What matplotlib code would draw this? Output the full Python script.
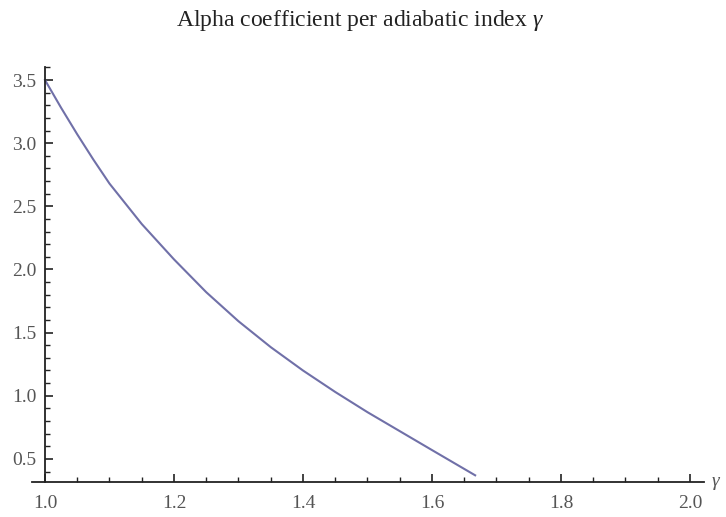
import matplotlib
matplotlib.use("Agg")
import matplotlib.pyplot as plt
from matplotlib.ticker import MultipleLocator

# values
gamma = [1.0, 1.025, 1.05, 1.075, 1.10, 1.15, 1.20, 1.25, 1.30, 1.35,
         1.40, 1.45, 1.50, 1.55, 1.60, 1.667]
alpha = [3.50, 3.28, 3.07, 2.87, 2.68, 2.36, 2.08, 1.82, 1.59, 1.385,
         1.20, 1.03, 0.87, 0.72, 0.57, 0.37]
x_ticks = [1.0, 1.2, 1.4, 1.6, 1.8, 2.0]
y_ticks = [0.5, 1.0, 1.5, 2.0, 2.5, 3.0, 3.5]

plt.rcParams['font.family'] = ['Liberation Serif', 'DejaVu Serif']
plt.rcParams['mathtext.fontset'] = 'custom'
plt.rcParams['mathtext.rm'] = 'Liberation Serif'
plt.rcParams['mathtext.it'] = 'Liberation Serif:italic'

fig = plt.figure(figsize=(7.26, 5.17), dpi=100)
ax = fig.add_axes([32.1 / 726, 35 / 517, 672 / 726, 414.6 / 517])

ax.plot(gamma, alpha, color='#7070a8', lw=1.5)

ax.set_xlim(0.98, 2.022)
ax.set_ylim(0.317, 3.6)

# Mathematica-style axes crossing at the origin of the plot range
ax.spines['top'].set_visible(False)
ax.spines['right'].set_visible(False)
ax.spines['left'].set_position(('data', 1.0))
for s in ['left', 'bottom']:
    ax.spines[s].set_linewidth(1.3)
    ax.spines[s].set_color('#222222')

ax.set_xticks(x_ticks)
ax.set_yticks(y_ticks)
ax.set_xticklabels([f"{v:.1f}" for v in x_ticks])
ax.set_yticklabels([f"{v:.1f}" for v in y_ticks])
ax.xaxis.set_minor_locator(MultipleLocator(0.05))
ax.yaxis.set_minor_locator(MultipleLocator(0.1))
ax.tick_params(which='major', direction='in', length=6, width=1.2,
               color='#222222', labelsize=14, labelcolor='#555555', pad=6)
ax.tick_params(axis='x', which='major', pad=9)
ax.tick_params(which='minor', direction='in', length=3.5, width=1.0,
               color='#222222')

# axis label sitting just past the end of the x axis
fig.text(716 / 726, 1 - 484 / 517, r'$\gamma$', fontsize=14,
         color='#555555', va='center', ha='center')

fig.text(0.496, 0.96, r'Alpha coefficient per adiabatic index $\gamma$',
         ha='center', va='center', fontsize=17, color='#222222')

fig.savefig('out.png', dpi=100)
